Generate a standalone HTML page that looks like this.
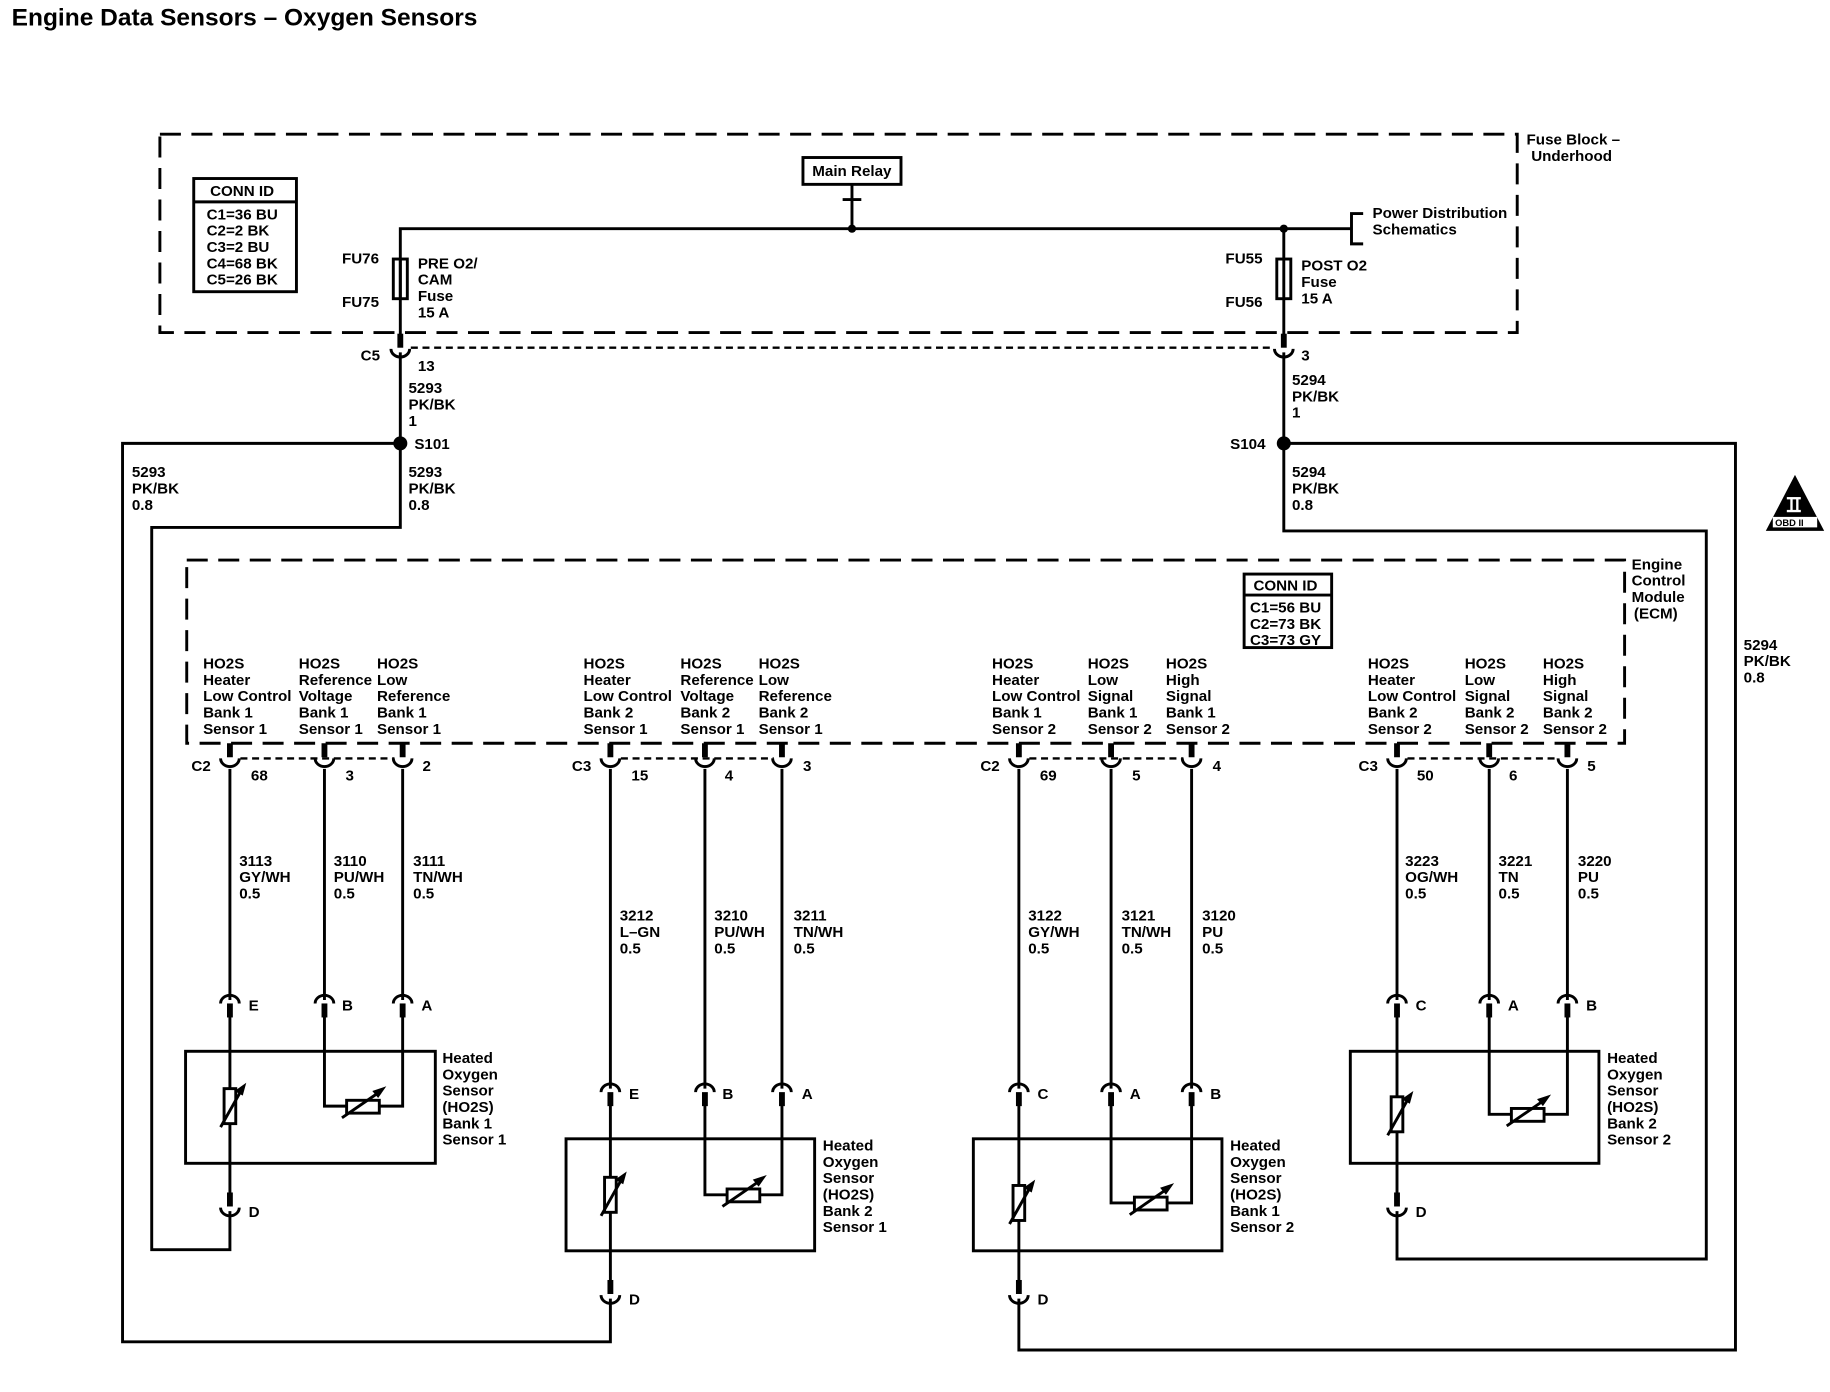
<!DOCTYPE html>
<html><head><meta charset="utf-8"><style>
html,body{margin:0;padding:0;background:#fff}
svg{display:block}
text{font-family:"Liberation Sans",Arial,sans-serif;font-size:13px;font-weight:bold;fill:#000}
</style></head><body>
<svg width="1830" height="1392" viewBox="0 0 1568 1193" preserveAspectRatio="none" xmlns="http://www.w3.org/2000/svg">
<defs>
<g id="cu"><rect x="-2.5" y="-16" width="5" height="12" fill="#000"/><path d="M-8,-3 A8,7 0 0 0 8,-3" fill="none" stroke="#000" stroke-width="2.5"/></g>
<g id="cn"><path d="M-8,3 A8,7 0 0 1 8,3" fill="none" stroke="#000" stroke-width="2.5"/><rect x="-2.5" y="3" width="5" height="12" fill="#000"/></g>
<g id="rv"><rect x="-5" y="-15" width="10" height="30" fill="#fff" stroke="#000" stroke-width="2.5"/><line x1="-8" y1="18" x2="10" y2="-14" stroke="#000" stroke-width="2.5"/><path d="M14,-20 L4,-13 L11,-9 Z" fill="#000"/></g>
<g id="rh"><rect x="-14" y="-5" width="28" height="11" fill="#fff" stroke="#000" stroke-width="2.5"/><line x1="-18" y1="10" x2="14" y2="-12" stroke="#000" stroke-width="2.5"/><path d="M20,-17 L8,-13 L13,-7 Z" fill="#000"/></g>
</defs>
<text x="10" y="22" style="font-size:21px">Engine Data Sensors – Oxygen Sensors</text>
<g fill="none" stroke="#000" stroke-width="2.5">
<rect x="137" y="115" width="1163" height="170" stroke-dasharray="18 9"/>
<rect x="160" y="480" width="1232" height="157" stroke-dasharray="18 9"/>
<rect x="688" y="135" width="84" height="23"/>
<line x1="730" y1="158" x2="730" y2="171"/><line x1="722" y1="171" x2="738" y2="171"/><line x1="730" y1="171" x2="730" y2="196"/>
<polyline points="343,256 343,196 1158,196"/>
<polyline points="1168,183 1158,183 1158,209 1168,209"/>
<line x1="343" y1="222" x2="343" y2="256"/><line x1="1100" y1="196" x2="1100" y2="256"/>
<rect x="337" y="222" width="12" height="34"/><rect x="1094" y="222" width="12" height="34"/>
<line x1="343" y1="256" x2="343" y2="290"/><line x1="1100" y1="256" x2="1100" y2="290"/>
<line x1="352" y1="298" x2="1092" y2="298" stroke-width="2" stroke-dasharray="6 4"/>
<rect x="166" y="153" width="88" height="97"/><line x1="166" y1="173" x2="254" y2="173"/>
<rect x="1066" y="492" width="75" height="63"/><line x1="1066" y1="510" x2="1141" y2="510"/>
<polyline points="343,302 343,452 130,452 130,1071 197,1071 197,1038"/>
<polyline points="343,380 105,380 105,1150 523,1150 523,1113"/>
<polyline points="1100,302 1100,455 1462,455 1462,1079 1197,1079 1197,1038"/>
<polyline points="1100,380 1487,380 1487,1157 873,1157 873,1113"/>
<line x1="206" y1="650" x2="338" y2="650" stroke-width="2" stroke-dasharray="6 4"/>
<line x1="532" y1="650" x2="663" y2="650" stroke-width="2" stroke-dasharray="6 4"/>
<line x1="882" y1="650" x2="1014" y2="650" stroke-width="2" stroke-dasharray="6 4"/>
<line x1="1206" y1="650" x2="1336" y2="650" stroke-width="2" stroke-dasharray="6 4"/>
<line x1="197" y1="659" x2="197" y2="857"/><line x1="278" y1="659" x2="278" y2="857"/><line x1="345" y1="659" x2="345" y2="857"/>
<line x1="197" y1="870" x2="197" y2="1022"/>
<polyline points="278,870 278,948 345,948 345,870"/>
<rect x="159" y="901" width="214" height="96"/>
<line x1="523" y1="659" x2="523" y2="933"/><line x1="604" y1="659" x2="604" y2="933"/><line x1="670" y1="659" x2="670" y2="933"/>
<line x1="523" y1="946" x2="523" y2="1097"/>
<polyline points="604,946 604,1024 670,1024 670,946"/>
<rect x="485" y="976" width="213" height="96"/>
<line x1="873" y1="659" x2="873" y2="933"/><line x1="952" y1="659" x2="952" y2="933"/><line x1="1021" y1="659" x2="1021" y2="933"/>
<line x1="873" y1="946" x2="873" y2="1097"/>
<polyline points="952,946 952,1031 1021,1031 1021,946"/>
<rect x="834" y="976" width="213" height="96"/>
<line x1="1197" y1="659" x2="1197" y2="857"/><line x1="1276" y1="659" x2="1276" y2="857"/><line x1="1343" y1="659" x2="1343" y2="857"/>
<line x1="1197" y1="870" x2="1197" y2="1022"/>
<polyline points="1276,870 1276,955 1343,955 1343,870"/>
<rect x="1157" y="901" width="213" height="96"/>
</g>
<circle cx="730" cy="196" r="3.5"/><circle cx="1100" cy="196" r="3.5"/>
<circle cx="343" cy="380" r="6"/><circle cx="1100" cy="380" r="6"/>
<use href="#cu" x="343" y="302"/><use href="#cu" x="1100" y="302"/>
<use href="#cu" x="197" y="653"/><use href="#cu" x="278" y="653"/><use href="#cu" x="345" y="653"/>
<use href="#cu" x="523" y="653"/><use href="#cu" x="604" y="653"/><use href="#cu" x="670" y="653"/>
<use href="#cu" x="873" y="653"/><use href="#cu" x="952" y="653"/><use href="#cu" x="1021" y="653"/>
<use href="#cu" x="1197" y="653"/><use href="#cu" x="1276" y="653"/><use href="#cu" x="1343" y="653"/>
<use href="#cn" x="197" y="857"/><use href="#cn" x="278" y="857"/><use href="#cn" x="345" y="857"/>
<use href="#cn" x="1197" y="857"/><use href="#cn" x="1276" y="857"/><use href="#cn" x="1343" y="857"/>
<use href="#cn" x="523" y="933"/><use href="#cn" x="604" y="933"/><use href="#cn" x="670" y="933"/>
<use href="#cn" x="873" y="933"/><use href="#cn" x="952" y="933"/><use href="#cn" x="1021" y="933"/>
<use href="#cu" x="197" y="1038"/><use href="#cu" x="1197" y="1038"/>
<use href="#cu" x="523" y="1113"/><use href="#cu" x="873" y="1113"/>
<use href="#rv" x="197" y="948"/><use href="#rh" x="311" y="948"/>
<use href="#rv" x="523" y="1024"/><use href="#rh" x="637" y="1024"/>
<use href="#rv" x="873" y="1031"/><use href="#rh" x="986" y="1031"/>
<use href="#rv" x="1197" y="955"/><use href="#rh" x="1309" y="955"/>
<path d="M1538,407 L1563,455 L1513,455 Z" fill="#000"/>
<rect x="1531" y="426" width="12" height="2" fill="#fff"/><rect x="1531" y="437" width="12" height="2" fill="#fff"/>
<rect x="1534" y="427" width="2" height="11" fill="#fff"/><rect x="1539" y="427" width="2" height="11" fill="#fff"/>
<rect x="1519" y="443" width="38" height="9" fill="#fff"/>
<text x="1521" y="451" style="font-size:8px">OBD II</text>
<g>
<text x="696" y="151">Main Relay</text>
<text x="1308" y="124">Fuse Block –</text><text x="1312" y="138">Underhood</text>
<text x="1176" y="187">Power Distribution</text><text x="1176" y="201">Schematics</text>
<text x="180" y="168">CONN ID</text>
<text x="177" y="188">C1=36 BU</text><text x="177" y="202">C2=2 BK</text><text x="177" y="216">C3=2 BU</text><text x="177" y="230">C4=68 BK</text><text x="177" y="244">C5=26 BK</text>
<text x="293" y="226">FU76</text><text x="293" y="263">FU75</text>
<text x="358" y="230">PRE O2/</text><text x="358" y="244">CAM</text><text x="358" y="258">Fuse</text><text x="358" y="272">15 A</text>
<text x="1050" y="226">FU55</text><text x="1050" y="263">FU56</text>
<text x="1115" y="232">POST O2</text><text x="1115" y="246">Fuse</text><text x="1115" y="260">15 A</text>
<text x="309" y="309">C5</text><text x="358" y="318">13</text><text x="1115" y="309">3</text>
<text x="350" y="337">5293</text><text x="350" y="351">PK/BK</text><text x="350" y="365">1</text>
<text x="355" y="385">S101</text>
<text x="113" y="409">5293</text><text x="113" y="423">PK/BK</text><text x="113" y="437">0.8</text>
<text x="350" y="409">5293</text><text x="350" y="423">PK/BK</text><text x="350" y="437">0.8</text>
<text x="1107" y="330">5294</text><text x="1107" y="344">PK/BK</text><text x="1107" y="358">1</text>
<text x="1054" y="385">S104</text>
<text x="1107" y="409">5294</text><text x="1107" y="423">PK/BK</text><text x="1107" y="437">0.8</text>
<text x="1494" y="557">5294</text><text x="1494" y="571">PK/BK</text><text x="1494" y="585">0.8</text>
<text x="1398" y="488">Engine</text><text x="1398" y="502">Control</text><text x="1398" y="516">Module</text><text x="1400" y="530">(ECM)</text>
<text x="1074" y="506">CONN ID</text>
<text x="1071" y="525">C1=56 BU</text><text x="1071" y="539">C2=73 BK</text><text x="1071" y="553">C3=73 GY</text>
</g>
<g>
<text x="174" y="573">HO2S</text><text x="174" y="587">Heater</text><text x="174" y="601">Low Control</text><text x="174" y="615">Bank 1</text><text x="174" y="629">Sensor 1</text>
<text x="256" y="573">HO2S</text><text x="256" y="587">Reference</text><text x="256" y="601">Voltage</text><text x="256" y="615">Bank 1</text><text x="256" y="629">Sensor 1</text>
<text x="323" y="573">HO2S</text><text x="323" y="587">Low</text><text x="323" y="601">Reference</text><text x="323" y="615">Bank 1</text><text x="323" y="629">Sensor 1</text>
<text x="500" y="573">HO2S</text><text x="500" y="587">Heater</text><text x="500" y="601">Low Control</text><text x="500" y="615">Bank 2</text><text x="500" y="629">Sensor 1</text>
<text x="583" y="573">HO2S</text><text x="583" y="587">Reference</text><text x="583" y="601">Voltage</text><text x="583" y="615">Bank 2</text><text x="583" y="629">Sensor 1</text>
<text x="650" y="573">HO2S</text><text x="650" y="587">Low</text><text x="650" y="601">Reference</text><text x="650" y="615">Bank 2</text><text x="650" y="629">Sensor 1</text>
<text x="850" y="573">HO2S</text><text x="850" y="587">Heater</text><text x="850" y="601">Low Control</text><text x="850" y="615">Bank 1</text><text x="850" y="629">Sensor 2</text>
<text x="932" y="573">HO2S</text><text x="932" y="587">Low</text><text x="932" y="601">Signal</text><text x="932" y="615">Bank 1</text><text x="932" y="629">Sensor 2</text>
<text x="999" y="573">HO2S</text><text x="999" y="587">High</text><text x="999" y="601">Signal</text><text x="999" y="615">Bank 1</text><text x="999" y="629">Sensor 2</text>
<text x="1172" y="573">HO2S</text><text x="1172" y="587">Heater</text><text x="1172" y="601">Low Control</text><text x="1172" y="615">Bank 2</text><text x="1172" y="629">Sensor 2</text>
<text x="1255" y="573">HO2S</text><text x="1255" y="587">Low</text><text x="1255" y="601">Signal</text><text x="1255" y="615">Bank 2</text><text x="1255" y="629">Sensor 2</text>
<text x="1322" y="573">HO2S</text><text x="1322" y="587">High</text><text x="1322" y="601">Signal</text><text x="1322" y="615">Bank 2</text><text x="1322" y="629">Sensor 2</text>
</g>
<g>
<text x="164" y="661">C2</text><text x="215" y="669">68</text><text x="296" y="669">3</text><text x="362" y="661">2</text>
<text x="490" y="661">C3</text><text x="541" y="669">15</text><text x="621" y="669">4</text><text x="688" y="661">3</text>
<text x="840" y="661">C2</text><text x="891" y="669">69</text><text x="970" y="669">5</text><text x="1039" y="661">4</text>
<text x="1164" y="661">C3</text><text x="1214" y="669">50</text><text x="1293" y="669">6</text><text x="1360" y="661">5</text>
<text x="205" y="742">3113</text><text x="205" y="756">GY/WH</text><text x="205" y="770">0.5</text>
<text x="286" y="742">3110</text><text x="286" y="756">PU/WH</text><text x="286" y="770">0.5</text>
<text x="354" y="742">3111</text><text x="354" y="756">TN/WH</text><text x="354" y="770">0.5</text>
<text x="531" y="789">3212</text><text x="531" y="803">L–GN</text><text x="531" y="817">0.5</text>
<text x="612" y="789">3210</text><text x="612" y="803">PU/WH</text><text x="612" y="817">0.5</text>
<text x="680" y="789">3211</text><text x="680" y="803">TN/WH</text><text x="680" y="817">0.5</text>
<text x="881" y="789">3122</text><text x="881" y="803">GY/WH</text><text x="881" y="817">0.5</text>
<text x="961" y="789">3121</text><text x="961" y="803">TN/WH</text><text x="961" y="817">0.5</text>
<text x="1030" y="789">3120</text><text x="1030" y="803">PU</text><text x="1030" y="817">0.5</text>
<text x="1204" y="742">3223</text><text x="1204" y="756">OG/WH</text><text x="1204" y="770">0.5</text>
<text x="1284" y="742">3221</text><text x="1284" y="756">TN</text><text x="1284" y="770">0.5</text>
<text x="1352" y="742">3220</text><text x="1352" y="756">PU</text><text x="1352" y="770">0.5</text>
</g>
<g>
<text x="213" y="866">E</text><text x="293" y="866">B</text><text x="361" y="866">A</text><text x="213" y="1043">D</text>
<text x="539" y="942">E</text><text x="619" y="942">B</text><text x="687" y="942">A</text><text x="539" y="1118">D</text>
<text x="889" y="942">C</text><text x="968" y="942">A</text><text x="1037" y="942">B</text><text x="889" y="1118">D</text>
<text x="1213" y="866">C</text><text x="1292" y="866">A</text><text x="1359" y="866">B</text><text x="1213" y="1043">D</text>
<text x="379" y="911">Heated</text><text x="379" y="925">Oxygen</text><text x="379" y="939">Sensor</text><text x="379" y="953">(HO2S)</text><text x="379" y="967">Bank 1</text><text x="379" y="981">Sensor 1</text>
<text x="705" y="986">Heated</text><text x="705" y="1000">Oxygen</text><text x="705" y="1014">Sensor</text><text x="705" y="1028">(HO2S)</text><text x="705" y="1042">Bank 2</text><text x="705" y="1056">Sensor 1</text>
<text x="1054" y="986">Heated</text><text x="1054" y="1000">Oxygen</text><text x="1054" y="1014">Sensor</text><text x="1054" y="1028">(HO2S)</text><text x="1054" y="1042">Bank 1</text><text x="1054" y="1056">Sensor 2</text>
<text x="1377" y="911">Heated</text><text x="1377" y="925">Oxygen</text><text x="1377" y="939">Sensor</text><text x="1377" y="953">(HO2S)</text><text x="1377" y="967">Bank 2</text><text x="1377" y="981">Sensor 2</text>
</g>
</svg>
</body></html>
